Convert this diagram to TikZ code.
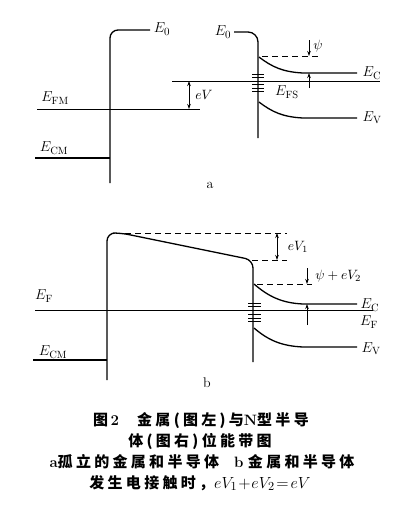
\documentclass[tikz,border=0pt]{standalone}
\usepackage{fontspec}
\newfontfamily\cjk[LetterSpace=22]{Noto Sans CJK SC}
\usetikzlibrary{arrows.meta}
\begin{document}
\begin{tikzpicture}[x=1pt,y=-1pt,
  band/.style={line width=1.3pt},
  thin/.style={line width=0.8pt},
  dashline/.style={line width=0.8pt, dash pattern=on 6pt off 4pt},
  dimarrow/.style={line width=0.8pt, -{Stealth[length=5pt,width=3.5pt]}},
  dimboth/.style={line width=0.8pt, {Stealth[length=5pt,width=3.5pt]}-{Stealth[length=5pt,width=3.5pt]}},
  lab/.style={font=\fontsize{15}{17}\selectfont, inner sep=0pt},
  slab/.style={font=\fontsize{10}{12}\selectfont, inner sep=0pt, scale=1.35},
  captext/.style={font=\fontsize{15}{18}\selectfont\bfseries, inner sep=0pt},
  ss/.style={line width=0.9pt}]
\useasboundingbox (0,0) rectangle (400,512);

% ---------------- part a ----------------
% metal
\draw[band, rounded corners=8pt] (110,183) -- (110,30) -- (150,30);
\node[lab] (e0m) at (162,29) {$E_{0}$};
\draw[thin] (37,109) -- (200,109);
\node[lab] (efm) at (55,98) {$E_{\mathrm{FM}}$};
\draw[band] (35,158) -- (110,158);
\node[lab] (ecm) at (54,148) {$E_{\mathrm{CM}}$};
% eV
\coordinate (eva) at (189,81);
\coordinate (evb) at (189,109);
\draw[dimboth] (eva) -- (evb);
\node[slab] (ev) at (204,95) {$eV$};
% semiconductor
\draw[thin] (172,81) -- (380,81);
\draw[band, rounded corners=10pt] (234,32) -- (258,32) -- (258,138);
\node[lab] (e0s) at (223,32) {$E_{0}$};
\draw[band] (259,57) .. controls (272,67) and (283,72) .. (303,73) -- (357,73);
\node[lab] (ec) at (372,73) {$E_{\mathrm{C}}$};
\draw[band] (259,102) .. controls (272,112) and (283,117) .. (303,118) -- (357,118);
\node[lab] (evv) at (372,118) {$E_{\mathrm{V}}$};
\draw[dashline] (262,56) -- (318,56);
\coordinate (psitop) at (309,40);
\coordinate (psia) at (309,56);
\coordinate (psib) at (309,73);
\coordinate (psibot) at (309,88);
\draw[dimarrow] (psitop) -- (psia);
\draw[dimarrow] (psibot) -- (psib);
\node[slab] (psi) at (318,46) {$\psi$};
\node[lab] (efs) at (287,92) {$E_{\mathrm{FS}}$};
\foreach \yy in {74,77.5,84.5,88,91.5} \draw[ss] (252,\yy) -- (264,\yy);
\node[font=\fontsize{14}{16}\selectfont, inner sep=0pt] (la) at (210,185) {a};

% ---------------- part b ----------------
\draw[band, rounded corners=8pt] (107,380) -- (107,233) -- (121,233) -- (253,260) -- (253,362);
\draw[dashline] (125,233) -- (287,233);
\draw[dashline] (252,260) -- (287,260);
\coordinate (ev1a) at (277,233);
\coordinate (ev1b) at (277,260);
\draw[dimboth] (ev1a) -- (ev1b);
\node[slab] (ev1) at (298,247) {$eV_{1}$};
\draw[dashline] (257,284) -- (312,284);
\coordinate (p2top) at (307,268);
\coordinate (p2a) at (307,284);
\coordinate (p2b) at (307,304);
\coordinate (p2bot) at (307,325);
\draw[dimarrow] (p2top) -- (p2a);
\draw[dimarrow] (p2bot) -- (p2b);
\node[slab, anchor=west] (psiev2) at (315,276) {$\psi + eV_{2}$};
\draw[band] (254,284) .. controls (268,296) and (281,303) .. (303,304) -- (357,304);
\node[lab] (ecb) at (370,305) {$E_{\mathrm{C}}$};
\draw[thin] (35,310) -- (373,310);
\node[lab] (efl) at (44,296) {$E_{\mathrm{F}}$};
\node[lab] (efr) at (369,322) {$E_{\mathrm{F}}$};
\draw[band] (254,328) .. controls (268,340) and (281,346) .. (303,347) -- (357,347);
\node[lab] (evb2) at (371,349) {$E_{\mathrm{V}}$};
\foreach \yy in {303,306.5,314,318,321.5} \draw[ss] (248,\yy) -- (261,\yy);
\draw[band] (33,360) -- (107,360);
\node[lab] (ecmb) at (53,352) {$E_{\mathrm{CM}}$};
\node[font=\fontsize{14}{16}\selectfont, inner sep=0pt] (lb) at (207,383) {b};

% ---------------- caption ----------------
\node[captext] (c1) at (201,421) {{\cjk 图}\,2\hspace{1.2em}{\cjk 金属(图左)与}N{\cjk 型半导}};
\node[captext] (c2) at (200,441) {{\cjk 体(图右)位能带图}};
\node[captext] (c3) at (202,462) {a{\cjk 孤立的金属和半导体}\hspace{1em}b\hspace{0.3em}{\cjk 金属和半导体}};
\node[captext] (c4) at (200,483) {{\cjk 发生电接触时，}\scalebox{1.12}{$eV_1\!+\!eV_2\!=\!eV$}};
\end{tikzpicture}
\end{document}
